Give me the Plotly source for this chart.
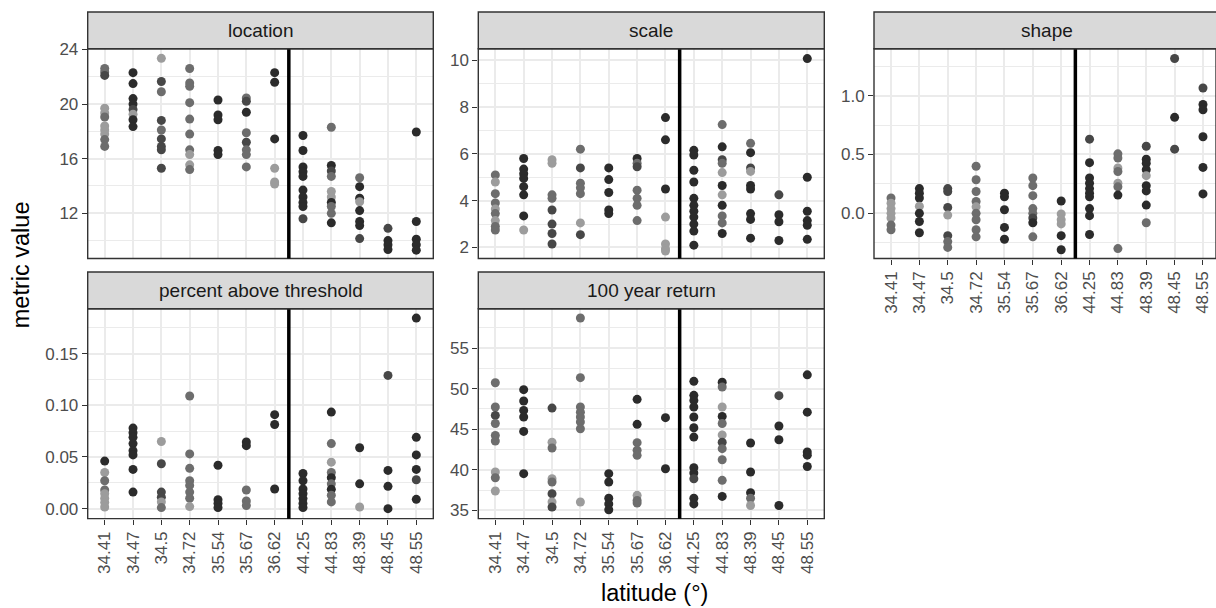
import plotly.graph_objects as go

# ---------------- data ----------------
latitudes = ["34.41", "34.47", "34.5", "34.72", "35.54", "35.67", "36.62",
             "44.25", "44.83", "48.39", "48.45", "48.55"]

panel_titles = ["location", "scale", "shape", "percent above threshold", "100 year return"]

location_values = [
    [22.6, 22.35, 22.1, 19.7, 19.35, 19.05, 18.4, 18.1, 17.8, 17.4, 16.9],
    [22.3, 21.5, 20.4, 20.0, 19.6, 19.25, 18.85, 18.35],
    [23.35, 21.65, 20.9, 18.8, 18.1, 17.45, 16.9, 16.65, 15.3],
    [22.6, 21.55, 21.3, 20.1, 18.9, 17.8, 16.65, 16.3, 15.55, 15.2],
    [20.3, 19.2, 18.85, 16.6, 16.3],
    [20.45, 20.2, 19.4, 17.9, 17.2, 16.65, 16.3, 15.4],
    [22.3, 21.6, 17.45, 15.3, 14.3, 14.15],
    [17.7, 16.6, 15.4, 15.05, 14.7, 13.7, 13.2, 12.8, 12.5, 11.6],
    [18.3, 15.5, 15.1, 14.7, 13.6, 13.2, 12.8, 12.5, 12.0, 11.3],
    [14.6, 13.95, 13.1, 12.85, 12.2, 11.4, 11.1, 10.15],
    [10.9, 10.0, 9.7, 9.35],
    [17.95, 11.4, 10.1, 9.7, 9.3],
]
location_shades = ["mmdllmlllmm", "kkkkdlkk", "ldmdmdddd", "mmmmmmmllm", "kkkkk",
                   "mdkmdmmm", "kkklll", "kkkkkkkkkd", "mkdmllkmmk", "mkklkkkd",
                   "dkkk", "kkkkk"]

scale_values = [
    [5.1, 4.8, 4.3, 3.9, 3.65, 3.45, 3.15, 2.9, 2.75],
    [5.8, 5.35, 5.15, 4.95, 4.6, 4.25, 3.35, 2.75],
    [5.75, 5.6, 4.25, 4.1, 3.6, 3.0, 2.6, 2.15],
    [6.2, 5.4, 4.75, 4.55, 4.3, 3.05, 2.55],
    [5.4, 4.9, 4.35, 3.6, 3.45],
    [5.8, 5.6, 5.45, 4.45, 4.1, 3.8, 3.15],
    [7.55, 6.6, 4.5, 3.3, 2.15, 1.95, 1.85],
    [6.15, 5.95, 5.3, 4.8, 4.1, 3.8, 3.55, 3.3, 3.0, 2.7, 2.1],
    [7.25, 6.3, 5.75, 5.6, 5.2, 4.65, 4.25, 3.8, 3.35, 3.05, 2.6],
    [6.45, 6.05, 5.4, 5.25, 4.65, 4.5, 3.45, 3.2, 2.4],
    [4.25, 3.4, 3.1, 2.3],
    [10.07, 5.0, 3.55, 3.15, 2.95, 2.35],
]
scale_shades = ["mlmmlmlmm", "kkkkkkkl", "llmmdddd", "mdmmmld", "kkkkk",
                "kmdmmmm", "kkkllll", "kkkkkkkkkkk", "mkdmlklkmmk", "mkdlkkkkk",
                "dkkk", "kkkkkk"]

shape_values = [
    [0.13, 0.085, 0.04, 0.0, -0.04, -0.1, -0.14],
    [0.21, 0.17, 0.13, 0.06, 0.0, -0.07, -0.165],
    [0.21, 0.185, 0.05, -0.015, -0.19, -0.24, -0.29],
    [0.4, 0.285, 0.185, 0.1, 0.055, 0.0, -0.055, -0.14, -0.2],
    [0.17, 0.14, 0.03, -0.12, -0.22],
    [0.3, 0.235, 0.15, 0.04, 0.0, -0.04, -0.08, -0.2],
    [0.105, -0.005, -0.055, -0.09, -0.19, -0.31],
    [0.63, 0.43, 0.3, 0.255, 0.21, 0.17, 0.14, 0.04, -0.02, -0.18],
    [0.505, 0.47, 0.385, 0.355, 0.255, 0.225, 0.155, -0.3],
    [0.57, 0.46, 0.425, 0.37, 0.32, 0.235, 0.19, 0.07, -0.08],
    [1.315, 0.815, 0.545],
    [1.065, 0.925, 0.88, 0.65, 0.39, 0.165],
]
shape_shades = ["mllllmm", "kkklkkk", "dddldmm", "mmmmlmmmm", "kkkkk",
                "mmmmmdkm", "klllkk", "dkkkkkkkkk", "mmlmlmkm", "dkkklkkkm",
                "dkd", "dkkkkk"]

threshold_values = [
    [0.046, 0.035, 0.027, 0.018, 0.0145, 0.01, 0.006, 0.0016],
    [0.078, 0.0735, 0.069, 0.063, 0.056, 0.052, 0.038, 0.016],
    [0.065, 0.0435, 0.016, 0.011, 0.0065, 0.001],
    [0.109, 0.053, 0.039, 0.027, 0.0225, 0.016, 0.01, 0.002],
    [0.042, 0.0087, 0.005, 0.001],
    [0.0645, 0.061, 0.018, 0.0074, 0.003],
    [0.091, 0.0815, 0.019],
    [0.034, 0.027, 0.019, 0.0145, 0.0097, 0.005, 0.001],
    [0.0935, 0.063, 0.045, 0.035, 0.03, 0.024, 0.0187, 0.013, 0.0065],
    [0.059, 0.024, 0.0016],
    [0.129, 0.037, 0.0216, 0.0],
    [0.1845, 0.069, 0.052, 0.038, 0.028, 0.009],
]
threshold_shades = ["klmmllll", "kkkkkkkk", "ldddlmd", "mmmmmmml", "kkkk",
                    "kkmmm", "kkk", "kkkkkkk", "kmlmkmkmm", "kkl",
                    "dkkk", "kkkkdk"]

return_values = [
    [50.73, 47.73, 46.7, 45.7, 44.24, 43.54, 39.72, 39.02, 37.38],
    [49.87, 48.47, 47.32, 46.5, 44.73, 39.52],
    [47.6, 43.4, 42.68, 38.9, 38.5, 37.05, 36.03, 35.4],
    [58.7, 51.35, 47.73, 47.1, 46.5, 45.9, 45.06, 36.03],
    [39.52, 38.5, 36.5, 35.8, 35.08],
    [48.68, 45.6, 43.34, 42.4, 41.78, 36.85, 36.23, 35.9],
    [46.42, 40.13],
    [50.9, 49.17, 48.55, 47.73, 46.5, 45.18, 44.03, 40.26, 39.6, 38.9, 36.5, 35.8],
    [50.8, 50.2, 47.73, 46.58, 45.7, 44.3, 43.4, 42.6, 41.24, 38.7, 36.72],
    [43.3, 39.72, 37.18, 36.5, 35.6],
    [49.13, 45.39, 43.7, 35.6],
    [51.7, 47.1, 42.2, 41.8, 40.4],
]
return_shades = ["mmdmmmlml", "kkkkkk", "dlmlmdld", "mmmmmmml", "kkkkk",
                 "kkmmmlmm", "kk", "kkkkkkkkkdkk", "kmlkmldmmmk", "kkkml",
                 "dkkk", "kkkkk"]

# ---------------- styling / layout ----------------
W, H = 1216, 608
shade_colors = {"k": "#2b2b2b", "d": "#474747", "m": "#6d6d6d", "l": "#9c9c9c"}
FONT = "Liberation Sans, Arial, sans-serif"
GRID = "#EBEBEB"
FRAME = "#333333"

def fx(p):
    return p / W

def fy(p):
    # vertical pixel target -> paper fraction (with a small empirical correction)
    q = (p - 8.7) / 0.98
    return 1 - q / H

panels = [
    dict(vals=location_values, shades=location_shades, x0=87.7, x1=433.3, top=49.3, bot=258.3,
         yr=[8.69, 24.05], dtick=4, fmt="", xlab=False),
    dict(vals=scale_values, shades=scale_shades, x0=478.3, x1=824.3, top=49.3, bot=258.3,
         yr=[1.53, 10.49], dtick=2, fmt="", xlab=False),
    dict(vals=shape_values, shades=shape_shades, x0=874.0, x1=1220.0, top=49.3, bot=258.3,
         yr=[-0.384, 1.398], dtick=0.5, fmt=".1f", xlab=True),
    dict(vals=threshold_values, shades=threshold_shades, x0=87.7, x1=433.3, top=308.3, bot=517.5,
         yr=[-0.0097, 0.1936], dtick=0.05, fmt=".2f", xlab=True),
    dict(vals=return_values, shades=return_shades, x0=478.3, x1=824.3, top=308.3, bot=517.5,
         yr=[33.98, 59.85], dtick=5, fmt="", xlab=True),
]

fig = go.Figure()
shapes = []
annotations = []
layout = {}

for i, p in enumerate(panels):
    n = "" if i == 0 else str(i + 1)
    xs, ys, cs = [], [], []
    for lat, vals, sh in zip(latitudes, p["vals"], p["shades"]):
        for v, s in zip(vals, sh):
            xs.append(lat)
            ys.append(v)
            cs.append(shade_colors[s])
    fig.add_trace(go.Scatter(
        x=xs, y=ys, mode="markers", xaxis="x" + n, yaxis="y" + n,
        marker=dict(size=9, color=cs, line=dict(width=0)),
        showlegend=False, hoverinfo="x+y", cliponaxis=False))

    x1 = min(p["x1"], W)
    step = (p["x1"] - p["x0"]) / 12.2
    xmax = 11.6 - (p["x1"] - x1) / step
    layout["xaxis" + n] = dict(
        domain=[fx(p["x0"]), fx(x1)], anchor="y" + n,
        type="category", categoryorder="array", categoryarray=latitudes,
        range=[-0.6, xmax], showgrid=True, gridcolor=GRID, gridwidth=1.6,
        zeroline=False, showline=False,
        showticklabels=p["xlab"], ticks="outside" if p["xlab"] else "",
        ticklen=5, tickwidth=1.4, tickcolor=FRAME, tickangle=-90,
        tickfont=dict(family=FONT, size=17, color="#4D4D4D"),
        fixedrange=True)
    layout["yaxis" + n] = dict(
        domain=[fy(p["bot"]), fy(p["top"])], anchor="x" + n,
        range=p["yr"], tick0=0, dtick=p["dtick"], tickformat=p["fmt"],
        showgrid=True, gridcolor=GRID, gridwidth=1.6, zeroline=False, showline=False,
        minor=dict(dtick=p["dtick"] / 2, tick0=0, showgrid=True, gridcolor=GRID, gridwidth=0.8),
        ticks="outside", ticklen=5, tickwidth=1.4, tickcolor=FRAME,
        tickfont=dict(family=FONT, size=17, color="#4D4D4D"),
        fixedrange=True)

    # panel border
    shapes.append(dict(type="rect", xref="x" + n + " domain", yref="y" + n + " domain",
                       x0=0, x1=1, y0=0, y1=1, line=dict(color=FRAME, width=1.4),
                       fillcolor="rgba(0,0,0,0)", layer="above"))
    # vertical separator between the two latitude groups
    shapes.append(dict(type="line", xref="x" + n, yref="y" + n + " domain",
                       x0=6.5, x1=6.5, y0=0, y1=1, line=dict(color="black", width=3.5),
                       layer="above"))
    # strip
    s_top = p["top"] - 36.6
    shapes.append(dict(type="rect", xref="paper", yref="paper",
                       x0=fx(p["x0"]), x1=fx(p["x1"]), y0=fy(p["top"]), y1=fy(s_top),
                       line=dict(color=FRAME, width=1.4), fillcolor="#D9D9D9", layer="above"))
    annotations.append(dict(text=panel_titles[i], xref="paper", yref="paper",
                            x=fx((p["x0"] + p["x1"]) / 2), y=fy((p["top"] + s_top) / 2),
                            xanchor="center", yanchor="middle", showarrow=False,
                            font=dict(family=FONT, size=19, color="#1A1A1A")))

annotations.append(dict(text="latitude (°)", xref="paper", yref="paper",
                        x=fx(654), y=fy(592), xanchor="center", yanchor="middle",
                        showarrow=False, font=dict(family=FONT, size=23.5, color="black")))
annotations.append(dict(text="metric value", xref="paper", yref="paper",
                        x=fx(21), y=fy(265), xanchor="center", yanchor="middle",
                        textangle=-90, showarrow=False,
                        font=dict(family=FONT, size=23.5, color="black")))

fig.update_layout(
    width=W, height=H, margin=dict(l=0, r=0, t=0, b=0), autosize=False,
    paper_bgcolor="white", plot_bgcolor="white",
    shapes=shapes, annotations=annotations, **layout)

fig.write_html(
    "out.html",
    config={"displayModeBar": False, "responsive": False},
    post_script="document.documentElement.style.overflow='hidden';"
                "document.body.style.margin='0px';document.body.style.overflow='hidden';")
